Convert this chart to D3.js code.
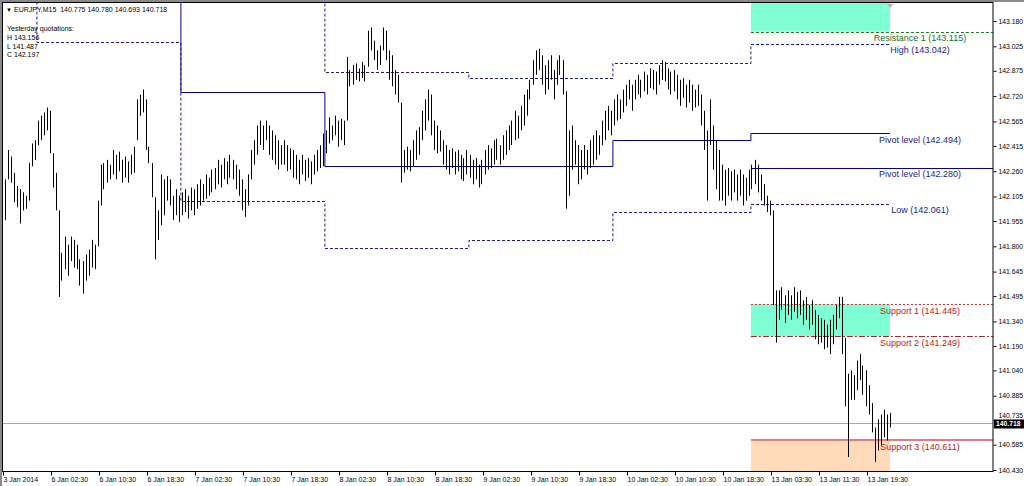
<!DOCTYPE html>
<html><head><meta charset="utf-8">
<script src="https://cdn.jsdelivr.net/npm/d3@7"></script>
<style>
body{margin:0;background:#fff}
svg{display:block}
text{font-family:"Liberation Sans",Arial,sans-serif}
</style>
</head><body><svg id="c" width="1024" height="486"></svg>
<script>
// ---------- data ----------
const high = [
142.21,142.39,142.35,142.25,142.17,142.15,142.13,142.11,142.31,142.43,
142.45,142.57,142.60,142.62,142.65,142.63,142.37,142.25,142.02,141.76,
141.86,141.81,141.86,141.84,141.81,141.72,141.71,141.75,141.78,141.84,
141.81,142.08,142.30,142.31,142.33,142.30,142.39,142.36,142.38,142.33,
142.35,142.32,142.36,142.41,142.70,142.73,142.76,142.70,142.41,142.31,
142.10,142.02,142.24,142.21,142.23,142.21,142.11,142.15,142.11,142.13,
142.15,142.11,142.16,142.15,142.18,142.21,142.18,142.24,142.22,142.27,
142.28,142.33,142.30,142.34,142.32,142.36,142.33,142.30,142.27,142.21,
142.15,142.24,142.39,142.45,142.54,142.57,142.54,142.57,142.54,142.51,
142.48,142.45,142.42,142.45,142.42,142.40,142.39,142.36,142.33,142.36,
142.33,142.34,142.32,142.36,142.39,142.42,142.49,142.51,142.59,142.54,
142.60,142.57,142.58,142.57,142.96,142.88,142.91,142.92,142.89,142.93,
142.91,143.12,143.14,143.06,143.00,143.03,143.14,143.12,143.00,142.97,
142.88,142.85,142.68,142.39,142.41,142.39,142.45,142.51,142.53,142.63,
142.70,142.76,142.73,142.57,142.54,142.51,142.45,142.42,142.39,142.40,
142.38,142.39,142.36,142.34,142.39,142.36,142.33,142.34,142.30,142.33,
142.39,142.42,142.40,142.45,142.46,142.42,142.48,142.51,142.54,142.57,
142.63,142.60,142.66,142.73,142.76,142.82,142.94,143.00,143.01,142.97,
142.91,142.94,142.97,142.88,142.94,142.97,142.94,142.75,142.51,142.54,
142.45,142.42,142.39,142.42,142.39,142.45,142.48,142.51,142.48,142.57,
142.63,142.66,142.63,142.70,142.73,142.70,142.76,142.79,142.82,142.79,
142.82,142.85,142.82,142.87,142.85,142.89,142.88,142.87,142.91,142.94,
142.93,142.89,142.87,142.88,142.85,142.82,142.83,142.79,142.82,142.79,
142.76,142.79,142.73,142.63,142.51,142.70,142.54,142.45,142.39,142.30,
142.27,142.28,142.26,142.27,142.24,142.27,142.24,142.22,142.27,142.30,
142.33,142.30,142.24,142.18,142.11,142.08,142.02,141.53,141.53,141.55,
141.50,141.53,141.50,141.55,141.52,141.53,141.47,141.49,141.44,141.47,
141.41,141.38,141.36,141.35,141.32,141.35,141.38,141.44,141.49,141.49,
141.24,141.02,141.04,141.01,141.10,141.14,141.07,141.04,140.95,140.84,
140.69,140.74,140.77,140.80,140.77,140.78
];
const low = [
141.96,142.21,142.19,142.07,142.04,141.94,142.02,142.03,142.08,142.29,
142.33,142.42,142.45,142.48,142.51,142.37,142.16,142.02,141.49,141.59,
141.66,141.62,141.71,141.67,141.66,141.56,141.51,141.59,141.62,141.67,
141.66,141.80,142.05,142.15,142.19,142.21,142.24,142.21,142.26,142.19,
142.22,142.19,142.24,142.25,142.45,142.60,142.62,142.39,142.31,142.10,
141.72,141.84,141.93,141.99,142.08,142.05,141.96,141.99,141.95,141.99,
142.01,141.97,142.02,141.99,142.03,142.05,142.08,142.09,142.11,142.13,
142.15,142.18,142.16,142.21,142.18,142.22,142.21,142.15,142.11,142.02,
141.98,142.05,142.21,142.30,142.36,142.42,142.39,142.45,142.36,142.33,
142.30,142.27,142.30,142.30,142.26,142.27,142.22,142.21,142.18,142.24,
142.20,142.22,142.18,142.24,142.26,142.28,142.29,142.37,142.43,142.45,
142.48,142.41,142.45,142.42,142.57,142.78,142.79,142.82,142.81,142.83,
142.81,142.90,143.00,142.94,142.88,142.91,143.00,142.94,142.82,142.78,
142.73,142.68,142.19,142.25,142.27,142.26,142.29,142.33,142.36,142.45,
142.51,142.57,142.48,142.39,142.37,142.38,142.30,142.27,142.24,142.28,
142.24,142.26,142.21,142.20,142.24,142.22,142.18,142.21,142.16,142.18,
142.24,142.27,142.28,142.30,142.33,142.30,142.33,142.36,142.39,142.42,
142.45,142.46,142.51,142.54,142.60,142.70,142.79,142.85,142.88,142.79,
142.73,142.76,142.82,142.70,142.79,142.85,142.73,142.03,142.11,142.27,
142.30,142.18,142.21,142.27,142.24,142.28,142.30,142.33,142.36,142.42,
142.45,142.51,142.48,142.54,142.57,142.58,142.62,142.66,142.70,142.63,
142.70,142.73,142.71,142.75,142.73,142.77,142.76,142.73,142.79,142.82,
142.81,142.76,142.73,142.75,142.70,142.66,142.71,142.65,142.68,142.63,
142.65,142.66,142.54,142.39,142.08,142.42,142.27,142.15,142.08,142.08,
142.05,142.11,142.08,142.13,142.08,142.11,142.05,142.08,142.11,142.15,
142.18,142.13,142.08,142.05,142.01,141.99,141.44,141.21,141.35,141.41,
141.33,141.38,141.35,141.40,141.36,141.38,141.32,141.35,141.29,141.32,
141.23,141.20,141.21,141.17,141.18,141.14,141.20,141.29,141.36,141.14,
140.82,140.51,140.86,140.86,140.92,140.98,140.89,140.82,140.77,140.66,
140.48,140.55,140.58,140.63,140.61,140.69
];
const priceTicks = [143.180,143.025,142.875,142.720,142.565,142.415,142.260,142.105,141.955,141.800,
  141.645,141.495,141.340,141.190,141.040,140.885,140.735,140.585,140.430];
const timeLabels = ["3 Jan 2014","6 Jan 02:30","6 Jan 10:30","6 Jan 18:30","7 Jan 02:30","7 Jan 10:30",
  "7 Jan 18:30","8 Jan 02:30","8 Jan 10:30","8 Jan 18:30","9 Jan 02:30","9 Jan 10:30","9 Jan 18:30",
  "10 Jan 02:30","10 Jan 10:30","10 Jan 18:30","13 Jan 03:30","13 Jan 11:30","13 Jan 19:30"];
const timeLabelBars = [0,16,32,48,64,80,96,112,128,144,160,176,192,208,224,240,256,272,288];
// daily levels (bar index where each day starts); 143.40 = above the visible range
const dayStart = [0,11.3,59.3,107.3,155.3,203.3,249.3];
const dayEnd = 295.7;
const pivotLevels = [143.40,143.40,142.745,142.29,142.29,142.45,142.494];
const highLevels  = [143.40,143.40,143.40,142.87,142.83,142.92,143.042];
const lowLevels   = [143.40,143.05,142.08,141.79,141.84,142.01,142.061];
// today's levels
const levelNames  = ["Resistance 1","Pivot level","Support 1","Support 2","Support 3"];
const levelValues = [143.115,142.280,141.445,141.249,140.611];
const stepNames   = ["High","Pivot level","Low"];
const stepValues  = [143.042,142.494,142.061];
const header = "EURJPY,M15  140.775 140.780 140.693 140.718";
const yesterday = ["Yesterday quotations:","H 143.156","L 141.487","C 142.197"];
const lastPrice = 140.718;

// ---------- layout ----------
const svg = d3.select("#c");
const L = 3, R = 993, T = 3, B = 471;
const x = d3.scaleLinear().domain([0, 296]).range([3, 891]);
const y = d3.scaleLinear().domain([140.43, 143.18]).range([470, 21]);

svg.append("rect").attr("width",1024).attr("height",486).attr("fill","#fff");
svg.append("defs").append("clipPath").attr("id","clip")
  .append("rect").attr("x",L).attr("y",T).attr("width",R-L).attr("height",B-T);
const g = svg.append("g").attr("clip-path","url(#clip)");

// zones
const zx0 = x(dayStart[6]), zx1 = x(dayEnd);
g.append("rect").attr("x",zx0).attr("width",zx1-zx0)
  .attr("y",T).attr("height",y(levelValues[0])-T).attr("fill","#7fffd4");
g.append("rect").attr("x",zx0).attr("width",zx1-zx0)
  .attr("y",y(levelValues[2])).attr("height",y(levelValues[3])-y(levelValues[2])).attr("fill","#7fffd4");
g.append("rect").attr("x",zx0).attr("width",zx1-zx0)
  .attr("y",y(levelValues[4])).attr("height",B-y(levelValues[4])).attr("fill","#ffdab9");
g.append("path").attr("d",`M${zx1-3},${T+1}L${zx1+3},${T+1}L${zx1},${T+5}Z`).attr("fill","#b0b0b0");

// current price line
g.append("line").attr("x1",L).attr("x2",R).attr("y1",Math.round(y(lastPrice))+0.5).attr("y2",Math.round(y(lastPrice))+0.5)
  .attr("stroke","#a8a8a8").attr("stroke-width",1);

// step lines
const stepLine = d3.line().x(d=>x(d[0])).y(d=>Math.round(y(d[1]))+0.5).curve(d3.curveStepAfter);
function steps(vals){ const p = dayStart.map((s,i)=>[s,vals[i]]); p.push([dayEnd, vals[vals.length-1]]); return p; }
g.append("path").attr("d",stepLine(steps(pivotLevels))).attr("fill","none").attr("stroke","#000080").attr("stroke-width",1);
g.append("path").attr("d",stepLine(steps(highLevels))).attr("fill","none").attr("stroke","#1c1c8c").attr("stroke-width",1).attr("stroke-dasharray","3,2");
g.append("path").attr("d",stepLine(steps(lowLevels))).attr("fill","none").attr("stroke","#1c1c8c").attr("stroke-width",1).attr("stroke-dasharray","3,2");

// today's extended levels
const levelStroke = ["#1f7a1f","#000080","#c83232","#a02828","#d9807f"];
const levelDash = ["3,2",null,"2,2","6,2,2,2",null];
const levelWidth = [1,1,1,1,2];
levelValues.forEach((v,i)=>{
  const yy = Math.round(y(v)) + (levelWidth[i]===2?0:0.5);
  g.append("line").attr("x1",zx0).attr("x2",R).attr("y1",yy).attr("y2",yy)
    .attr("stroke",levelStroke[i]).attr("stroke-width",levelWidth[i])
    .attr("stroke-dasharray",levelDash[i]);
});

// bars
g.append("g").selectAll("line").data(high).join("line")
  .attr("x1",(d,i)=>Math.round(x(i+0.5))+0.5).attr("x2",(d,i)=>Math.round(x(i+0.5))+0.5)
  .attr("y1",d=>y(d)).attr("y2",(d,i)=>y(low[i]))
  .attr("stroke","#000").attr("stroke-width",1);

// labels
const labColor = ["#1e6e1e","#1a1a8c","#c02020","#c02020","#c02020"];
const labX = 920;
levelValues.forEach((v,i)=>{
  svg.append("text").attr("x",labX).attr("y",y(v)+9.5).attr("text-anchor","middle")
    .attr("font-size",9).attr("fill",labColor[i]).text(`${levelNames[i]} (${v.toFixed(3)})`);
});
stepValues.forEach((v,i)=>{
  svg.append("text").attr("x",labX).attr("y",y(v)+9.5).attr("text-anchor","middle")
    .attr("font-size",9).attr("fill","#1a1a8c").text(`${stepNames[i]} (${v.toFixed(3)})`);
});

// frame
svg.append("rect").attr("x",0).attr("y",0).attr("width",1024).attr("height",2).attr("fill","#8a8a8a");
svg.append("rect").attr("x",0).attr("y",0).attr("width",2).attr("height",486).attr("fill","#8a8a8a");
svg.append("rect").attr("x",2.5).attr("y",2.5).attr("width",R-2.5).attr("height",B-2.5+0.5)
  .attr("fill","none").attr("stroke","#000");

// axes
const ay = svg.append("g").attr("transform",`translate(${R+0.5},0)`)
  .call(d3.axisRight(y).tickValues(priceTicks).tickSize(3).tickPadding(2).tickFormat(d3.format(".3f")));
ay.select(".domain").remove();
ay.selectAll("text").attr("font-size",6.8).attr("fill","#000").attr("font-family",'"Liberation Sans",Arial,sans-serif');
ay.selectAll("line").attr("stroke","#000");
// the tick label under the price tag is nudged up, as in the terminal
ay.selectAll(".tick").filter(d=>Math.abs(d-lastPrice)<0.05).select("text").attr("dy","-0.45em");

const ax = svg.append("g").attr("transform",`translate(0,${B+0.5})`)
  .call(d3.axisBottom(x).tickValues(timeLabelBars).tickSize(4).tickFormat((d,i)=>timeLabels[i]));
ax.select(".domain").remove();
ax.selectAll("text").attr("text-anchor","start").attr("x",0).attr("y",6).attr("dy","0.71em")
  .attr("font-size",7).attr("fill","#000").attr("font-family",'"Liberation Sans",Arial,sans-serif');
ax.selectAll("line").attr("stroke","#000");

// current price tag
const py = y(lastPrice);
svg.append("rect").attr("x",R+1).attr("y",py-3.5).attr("width",30).attr("height",9).attr("fill","#000");
svg.append("text").attr("x",R+3).attr("y",py+3.5).attr("font-size",6.8).attr("fill","#fff")
  .attr("font-weight","bold").text(lastPrice.toFixed(3));

// header texts
svg.append("text").attr("x",6).attr("y",11.5).attr("font-size",6).attr("fill","#000").text("▼");
svg.append("text").attr("x",14).attr("y",12).attr("font-size",7).attr("fill","#000")
  .attr("xml:space","preserve").style("white-space","pre").text(header);
const yy0 = [30.5,40,48.5,57];
yesterday.forEach((t,i)=>{
  svg.append("text").attr("x",7).attr("y",yy0[i]).attr("font-size",7).attr("fill","#000").text(t);
});
</script>
</body></html>
